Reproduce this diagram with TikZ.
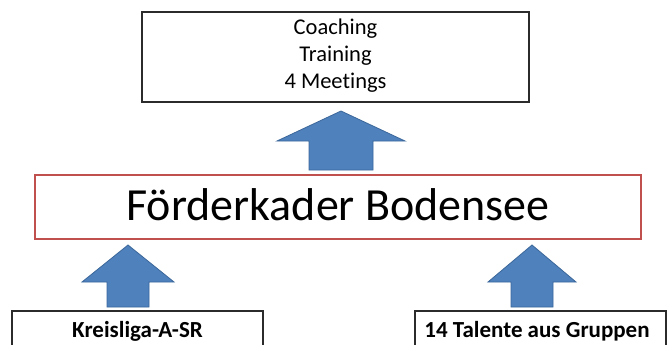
\documentclass[tikz,border=0pt]{standalone}
\usepackage{fontspec}
\setmainfont{Carlito}[Ligatures=NoCommon]
\definecolor{arrowblue}{HTML}{4F81BD}
\definecolor{arrowedge}{HTML}{3B679A}
\definecolor{boxred}{HTML}{C0504D}
\definecolor{boxdark}{HTML}{2B2B2B}
\newcommand\blockarr[7]{%
  % #1 name, #2 cx, #3 tip y, #4 neck y, #5 bottom y, #6 head half, #7 shaft half
  \draw[barrow] (#2,#3) coordinate (#1tip) -- (#2+#6,#4) -- (#2+#7,#4) -- (#2+#7,#5)
    -- (#2-#7,#5) -- (#2-#7,#4) -- (#2-#6,#4) -- cycle;}
\begin{document}
\begin{tikzpicture}[x=1pt,y=-1pt,
  barrow/.style={fill=arrowblue,draw=arrowedge,line width=0.8pt,line join=miter},
  darkbox/.style={draw=boxdark,line width=2.5pt,fill=white,inner sep=0pt},
  redbox/.style={draw=boxred,line width=2.2pt,fill=white,inner sep=0pt},
  small/.style={font=\fontsize{22.5}{27}\selectfont},
  smallbold/.style={font=\fontsize{23}{27}\selectfont\bfseries}]
\useasboundingbox (0,0) rectangle (667,345);
\clip (0,0) rectangle (667,345);
\fill[white] (0,0) rectangle (667,345);
% top box
\node[darkbox,minimum width=387pt,minimum height=90pt] (top) at (335.5,57) {};
\node[small,align=center] (toptext) at (335.5,56) {Coaching\\Training\\4 Meetings};
% main box
\node[redbox,minimum width=606pt,minimum height=64pt] (main) at (338,207) {};
\node[font=\fontsize{46}{55}\selectfont] (maintext) at (338,205) {Förderkader Bodensee};
% bottom boxes
\node[darkbox,minimum width=251pt,minimum height=50pt] (left) at (137.5,336) {};
\node[smallbold] (lefttext) at (137.5,331) {Kreisliga-A-SR};
\node[darkbox,minimum width=251pt,minimum height=50pt] (right) at (540.5,336) {};
\node[smallbold] (righttext) at (537,331) {14 Talente aus Gruppen};
% block arrows
\blockarr{a1}{341}{111}{141}{170}{64}{32}
\blockarr{a2}{128}{245}{282}{307}{46}{21}
\blockarr{a3}{532}{245}{282}{307}{44}{21}
\end{tikzpicture}
\end{document}
